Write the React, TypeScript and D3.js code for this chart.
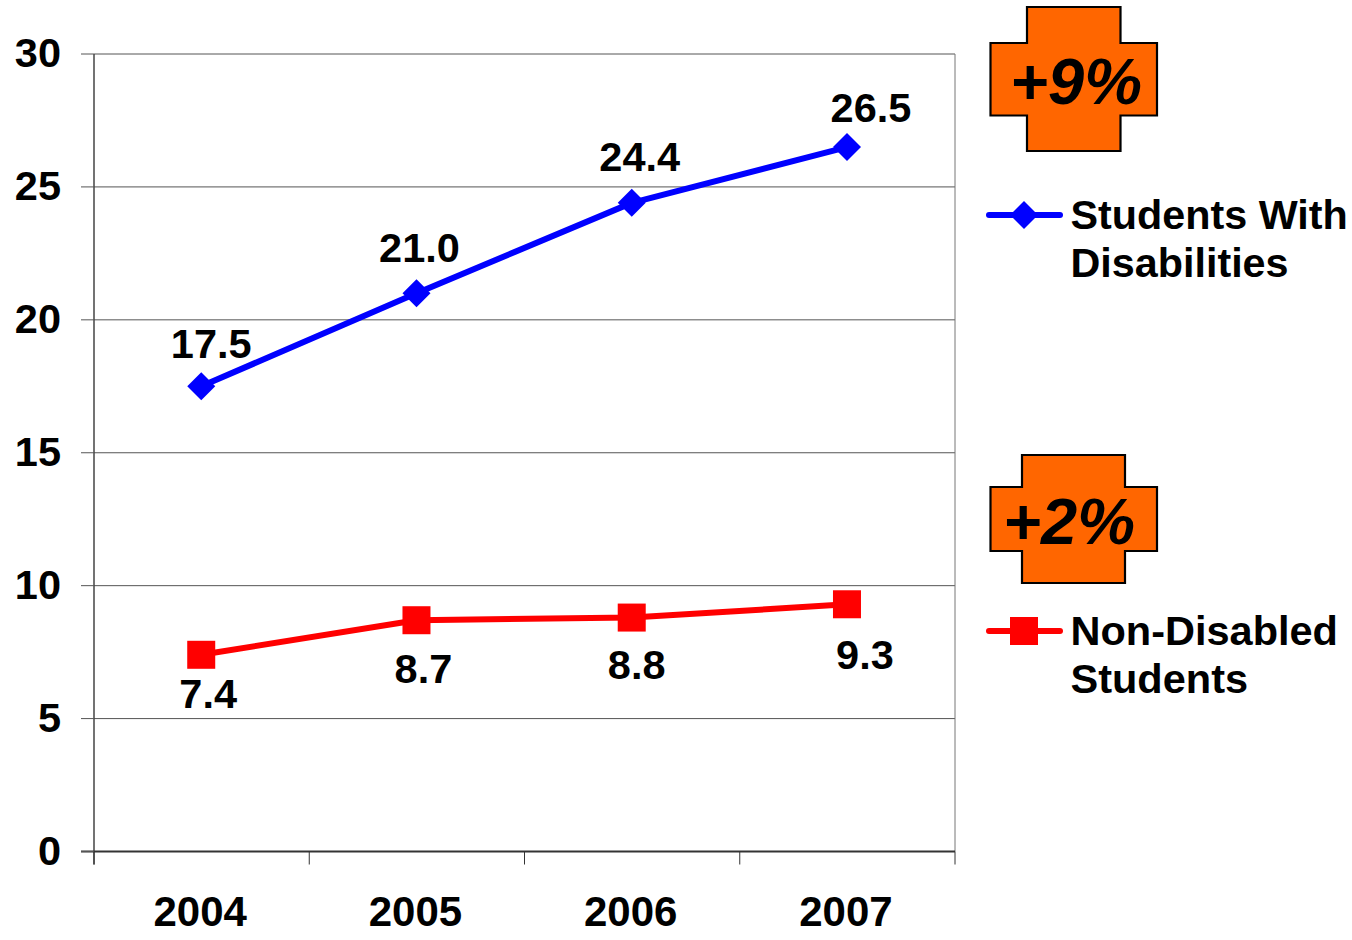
import React from "react";
import * as d3 from "d3";

const years = ["2004", "2005", "2006", "2007"];
const disabled = [17.5, 21.0, 24.4, 26.5];
const nonDisabled = [7.4, 8.7, 8.8, 9.3];
const yTicks = [0, 5, 10, 15, 20, 25, 30];

const FONT = '"Liberation Sans", Arial, sans-serif';
const left = 94, right = 955, top = 54, bottom = 851.5;
const x = d3.scaleBand<string>().domain(years).range([left, right]);
const y = d3.scaleLinear().domain([0, 30]).range([bottom, top]);
const px = (yr: string) => x(yr)! + x.bandwidth() / 2 - 0.4;
const line = d3.line<number>().x((_, i) => px(years[i])).y((d) => y(d));

const labelOffsets = {
  disabled: [[10, -28], [3, -31], [8, -32], [24, -25]],
  nonDisabled: [[7, 53], [7, 63], [5, 61], [18, 65]],
};

function Cross({ x0, x1, y0, y1, ix0, ix1, iy0, iy1 }: Record<string, number>) {
  const pts = [[ix0, y0], [ix1, y0], [ix1, iy0], [x1, iy0], [x1, iy1], [ix1, iy1], [ix1, y1], [ix0, y1], [ix0, iy1], [x0, iy1], [x0, iy0], [ix0, iy0]];
  return <polygon points={pts.map((p) => p.join(",")).join(" ")} fill="#FF6600" stroke="#000" strokeWidth={2.2} />;
}

export default function App() {
  return (
    <svg width={1352} height={940} style={{ position: "absolute", left: 0, top: 0, background: "#fff" }} fontFamily={FONT} fontWeight="bold" fill="#000" stroke="none">
      {yTicks.filter((t) => t > 0).map((t) => (
        <line key={t} x1={left} x2={right} y1={y(t)} y2={y(t)} stroke="#555" strokeWidth={1} />
      ))}
      <line x1={right} x2={right} y1={top} y2={bottom} stroke="#777" strokeWidth={1} />
      <line x1={left} x2={left} y1={top} y2={bottom + 13} stroke="#444" strokeWidth={1.5} />
      <line x1={left - 13} x2={right} y1={bottom} y2={bottom} stroke="#333" strokeWidth={2} />
      {yTicks.map((t) => (
        <g key={t}>
          <line x1={left - 13} x2={left} y1={y(t)} y2={y(t)} stroke="#555" strokeWidth={1} />
          <text x={61} y={y(t) + 13} textAnchor="end" fontSize={41.5}>{t}</text>
        </g>
      ))}
      {[...years.map((yr) => x(yr)!), right].map((v, i) => (
        <line key={i} x1={v} x2={v} y1={bottom} y2={bottom + 13} stroke="#333" strokeWidth={1} />
      ))}
      {years.map((yr) => (
        <text key={yr} x={px(yr) - 1} y={926} textAnchor="middle" fontSize={42}>{yr}</text>
      ))}

      <path d={line(disabled)!} fill="none" stroke="#0000FF" strokeWidth={6} strokeLinejoin="round" strokeLinecap="round" />
      {disabled.map((v, i) => (
        <g key={i}>
          <polygon transform={`translate(${px(years[i])},${y(v)})`} points="0,-14 14,0 0,14 -14,0" fill="#0000FF" />
          <text x={px(years[i]) + labelOffsets.disabled[i][0]} y={y(v) + labelOffsets.disabled[i][1]} textAnchor="middle" fontSize={41.5}>{v.toFixed(1)}</text>
        </g>
      ))}
      <path d={line(nonDisabled)!} fill="none" stroke="#FF0000" strokeWidth={6} strokeLinejoin="round" strokeLinecap="round" />
      {nonDisabled.map((v, i) => (
        <g key={i}>
          <rect x={px(years[i]) - 14} y={y(v) - 14} width={28} height={28} fill="#FF0000" />
          <text x={px(years[i]) + labelOffsets.nonDisabled[i][0]} y={y(v) + labelOffsets.nonDisabled[i][1]} textAnchor="middle" fontSize={41.5}>{v.toFixed(1)}</text>
        </g>
      ))}

      <Cross x0={990.5} x1={1157} y0={7} y1={151} ix0={1027} ix1={1120.5} iy0={43} iy1={115.5} />
      <text x={1076} y={104} textAnchor="middle" fontSize={65} fontStyle="italic">+9%</text>
      <Cross x0={990.5} x1={1157} y0={455} y1={583} ix0={1022} ix1={1125} iy0={487} iy1={551} />
      <text x={1069} y={544} textAnchor="middle" fontSize={65} fontStyle="italic">+2%</text>

      <line x1={989} x2={1060} y1={215} y2={215} stroke="#0000FF" strokeWidth={6} strokeLinecap="round" />
      <polygon transform="translate(1024,215)" points="0,-14 14,0 0,14 -14,0" fill="#0000FF" />
      <text x={1070.5} y={229} fontSize={41.3}>Students With</text>
      <text x={1070.5} y={277} fontSize={41.3}>Disabilities</text>

      <line x1={989} x2={1060} y1={631} y2={631} stroke="#FF0000" strokeWidth={6} strokeLinecap="round" />
      <rect x={1010} y={617} width={28} height={28} fill="#FF0000" />
      <text x={1070.5} y={645} fontSize={41.5}>Non-Disabled</text>
      <text x={1070.5} y={693} fontSize={41.5}>Students</text>
    </svg>
  );
}
